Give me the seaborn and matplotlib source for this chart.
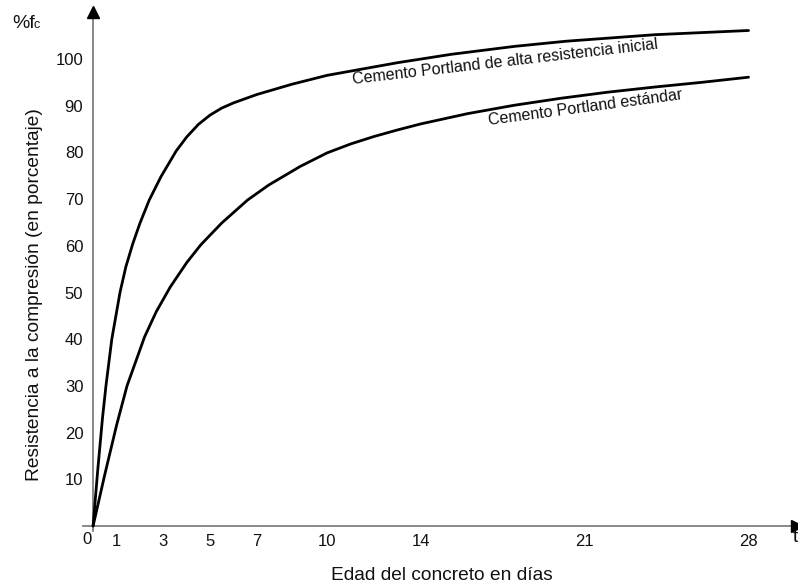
import matplotlib
matplotlib.use("Agg")
import matplotlib.pyplot as plt
import seaborn as sns
import pandas as pd

# ---- data ----
days_high = [0, 0.2, 0.4, 0.55, 0.8, 1.15, 1.4, 1.7, 2.0, 2.4, 2.9, 3.55, 4.0, 4.5,
             5.0, 5.5, 6.0, 7.0, 8.5, 10, 11, 13, 15.3, 18, 20.2, 24, 28]
pct_high = [0, 12, 23, 30, 40, 50, 55.5, 60.5, 64.8, 69.8, 74.8, 80.3, 83.3, 86.0,
            88.0, 89.5, 90.6, 92.4, 94.6, 96.5, 97.4, 99.2, 101.0, 102.7, 103.8, 105.2, 106.1]

days_std = [0, 0.5, 1.0, 1.45, 2.2, 2.7, 3.3, 4.0, 4.6, 5.5, 6.6, 7.5, 8.85, 10,
            11, 12, 13, 14, 16, 18, 20, 22, 24, 26, 28]
pct_std = [0, 11, 21.5, 30, 40.5, 45.9, 51.2, 56.4, 60.2, 64.9, 69.8, 73.0, 77.0, 79.9,
           81.8, 83.4, 84.8, 86.1, 88.3, 90.1, 91.6, 92.9, 94.0, 95.0, 96.1]

x_ticks = [1, 3, 5, 7, 10, 14, 21, 28]
y_ticks = [10, 20, 30, 40, 50, 60, 70, 80, 90, 100]

label_high = "Cemento Portland de alta resistencia inicial"
label_std = "Cemento Portland estándar"
y_label = "Resistencia a la compresión (en porcentaje)"
x_label = "Edad del concreto en días"

df = pd.concat([
    pd.DataFrame({"dia": days_high, "pct": pct_high, "serie": label_high}),
    pd.DataFrame({"dia": days_std, "pct": pct_std, "serie": label_std}),
])

sns.set_style("white")
plt.rcParams["font.family"] = ["Liberation Sans", "DejaVu Sans"]

W, H = 798, 587
fig = plt.figure(figsize=(W / 100, H / 100), dpi=100)

xmin, xmax = -0.43, 30.07
ymin, ymax = -1.0, 110.06
left_px, right_px = 83, 797
bottom_px, top_px = 530.7, 12
ax = fig.add_axes([left_px / W, 1 - bottom_px / H,
                   (right_px - left_px) / W, (bottom_px - top_px) / H])

sns.lineplot(data=df, x="dia", y="pct", units="serie", estimator=None,
             color="black", linewidth=2.0, sort=False, ax=ax)

ax.set_xlim(xmin, xmax)
ax.set_ylim(ymin, ymax)
axis_col = "#7f7f7f"
for side in ("top", "right"):
    ax.spines[side].set_visible(False)
for side in ("left", "bottom"):
    ax.spines[side].set_position(("data", 0))
    ax.spines[side].set_color(axis_col)
    ax.spines[side].set_linewidth(1.3)
    ax.spines[side].set_zorder(1)
ax.plot([xmax], [0], marker=">", color="black", ms=8, clip_on=False, zorder=5)
ax.plot([0], [ymax], marker="^", color="black", ms=8, clip_on=False, zorder=5)

ax.set_xticks(x_ticks)
ax.set_xticklabels([str(t) for t in x_ticks])
ax.set_yticks(y_ticks)
ax.set_yticklabels([str(t) for t in y_ticks])
ax.tick_params(axis="x", direction="in", length=4, width=1, color=axis_col,
               pad=6, labelsize=12, labelcolor="#111111")
ax.tick_params(axis="y", direction="inout", length=8, width=1, color=axis_col,
               pad=3, labelsize=12, labelcolor="#111111")
ax.set_xlabel("")
ax.set_ylabel("")
leg = ax.get_legend()
if leg is not None:
    leg.remove()

# "0" label at origin
ax.text(-0.08, -1.2, "0", ha="right", va="top", fontsize=12, color="#111111")

# curve labels
ax.text((505 - 93) / 23.41, (526 - 62) / 4.67, label_high, rotation=6.6,
        ha="center", va="center", fontsize=11.5, color="#111111",
        rotation_mode="anchor")
ax.text((585 - 93) / 23.41, (526 - 108) / 4.67, label_std, rotation=7.6,
        ha="center", va="center", fontsize=11.5, color="#111111",
        rotation_mode="anchor")

# axis titles
fig.text(35 / W, 1 - 295 / H, y_label, rotation=90, ha="center", va="center",
         fontsize=13.8, color="#111111")
fig.text(442 / W, 1 - 575 / H, x_label, ha="center", va="center",
         fontsize=13.8, color="#111111")
fig.text(12 / W, 1 - 28 / H, "%f", ha="left", va="baseline", fontsize=14,
         color="#111111")
fig.text(34 / W, 1 - 28 / H, "c", ha="left", va="baseline", fontsize=9,
         color="#111111")
fig.text(793 / W, 1 - 537 / H, "t", ha="left", va="center", fontsize=14,
         color="#111111")

fig.savefig("out.png", dpi=100)
